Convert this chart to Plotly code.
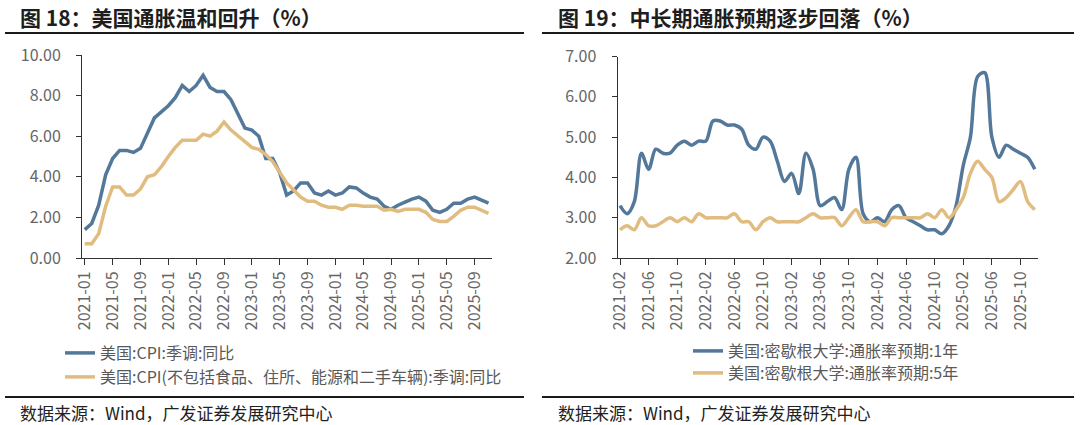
import plotly.graph_objects as go

# ---------------- data ----------------
months_left = [f"{y}-{m:02d}" for y in range(2021, 2026) for m in range(1, 13)][:59]   # 2021-01 .. 2025-11
months_right = [f"{y}-{m:02d}" for y in range(2021, 2026) for m in range(1, 13)][1:60]  # 2021-02 .. 2025-12

cpi_sa_yoy = [1.4, 1.7, 2.6, 4.1, 4.9, 5.3, 5.3, 5.2, 5.4, 6.2, 6.9, 7.2,
              7.5, 7.9, 8.5, 8.2, 8.5, 9.0, 8.4, 8.2, 8.2, 7.8, 7.1, 6.4,
              6.3, 6.0, 4.9, 4.9, 4.2, 3.1, 3.3, 3.7, 3.7, 3.2, 3.1, 3.3,
              3.1, 3.2, 3.5, 3.45, 3.2, 3.0, 2.9, 2.55, 2.4, 2.6, 2.75, 2.9,
              3.0, 2.8, 2.35, 2.25, 2.4, 2.7, 2.7, 2.9, 3.0, None, 2.7]

cpi_ex_yoy = [0.7, 0.7, 1.2, 2.55, 3.5, 3.5, 3.1, 3.1, 3.4, 4.0, 4.1, 4.5,
              5.0, 5.45, 5.8, 5.8, 5.8, 6.1, 6.0, 6.25, 6.7, 6.3, 6.0, 5.75,
              5.45, 5.35, 5.1, 4.75, 4.25, 3.7, 3.35, 3.0, 2.8, 2.8, 2.6, 2.5,
              2.5, 2.4, 2.6, 2.6, 2.55, 2.55, 2.55, 2.35, 2.4, 2.3, 2.4, 2.4,
              2.4, 2.25, 1.9, 1.8, 1.8, 2.05, 2.35, 2.5, 2.5, None, 2.2]

mich_1y = [3.3, 3.1, 3.4, 4.6, 4.2, 4.7, 4.6, 4.6, 4.8, 4.9, 4.8,
           4.9, 4.9, 5.4, 5.4, 5.3, 5.3, 5.2, 4.8, 4.7, 5.0, 4.9, 4.4,
           3.9, 4.1, 3.6, 4.6, 4.2, 3.3, 3.4, 3.5, 3.2, 4.2, 4.5, 3.1,
           2.9, 3.0, 2.9, 3.2, 3.3, 3.0, 2.9, 2.8, 2.7, 2.7, 2.6, 2.8,
           3.3, 4.3, 5.0, 6.5, 6.6, 5.0, 4.5, 4.8, 4.7, 4.6, 4.5, 4.2]

mich_5y = [2.7, 2.8, 2.7, 3.0, 2.8, 2.8, 2.9, 3.0, 2.9, 3.0, 2.9,
           3.1, 3.0, 3.0, 3.0, 3.0, 3.1, 2.9, 2.9, 2.7, 2.9, 3.0, 2.9,
           2.9, 2.9, 2.9, 3.0, 3.1, 3.0, 3.0, 3.0, 2.8, 3.0, 3.2, 2.9,
           2.9, 2.9, 2.8, 3.0, 3.0, 3.0, 3.0, 3.0, 3.1, 3.0, 3.2, 3.0,
           3.2, 3.5, 4.1, 4.4, 4.2, 4.0, 3.4, 3.5, 3.7, 3.9, 3.4, 3.2]

title_left = "图 18：美国通胀温和回升（%）"
title_right = "图 19：中长期通胀预期逐步回落（%）"
source_text = "数据来源：Wind，广发证券发展研究中心"
names_left = ["美国:CPI:季调:同比", "美国:CPI(不包括食品、住所、能源和二手车辆):季调:同比"]
names_right = ["美国:密歇根大学:通胀率预期:1年", "美国:密歇根大学:通胀率预期:5年"]

# ---------------- style ----------------
W, H = 1080, 425
BLUE = "#53789A"
TAN = "#E0BC80"
GRAY = "#666666"
AXIS = "#333333"
FONT = "Noto Sans CJK SC"


def px(x):
    return x / W


def py(y):
    return (H - y) / H


xl = list(range(len(months_left)))
xr = list(range(len(months_right)))

fig = go.Figure()
fig.add_trace(go.Scatter(x=xl, y=cpi_sa_yoy, name=names_left[0], mode="lines",
                         line=dict(color=BLUE, width=3.5), connectgaps=True,
                         xaxis="x", yaxis="y", legend="legend"))
fig.add_trace(go.Scatter(x=xl, y=cpi_ex_yoy, name=names_left[1], mode="lines",
                         line=dict(color=TAN, width=3.5), connectgaps=True,
                         xaxis="x", yaxis="y", legend="legend2"))
fig.add_trace(go.Scatter(x=xr, y=mich_1y, name=names_right[0], mode="lines",
                         line=dict(color=BLUE, width=3.5, shape="spline", smoothing=0.9),
                         xaxis="x2", yaxis="y2", legend="legend3"))
fig.add_trace(go.Scatter(x=xr, y=mich_5y, name=names_right[1], mode="lines",
                         line=dict(color=TAN, width=3.5, shape="spline", smoothing=0.9),
                         xaxis="x2", yaxis="y2", legend="legend4"))

xcommon = dict(showgrid=False, zeroline=False, showline=True, linecolor=AXIS, linewidth=1,
               ticks="outside", ticklen=6, tickcolor=AXIS, tickangle=-90,
               tickfont=dict(family=FONT, size=16, color=GRAY), fixedrange=True,
               automargin=False)
ycommon = dict(showgrid=False, zeroline=False, showline=True, linecolor=AXIS, linewidth=1,
               ticks="outside", ticklen=5, tickcolor=AXIS, tickformat=".2f",
               tickfont=dict(family=FONT, size=16, color=GRAY), fixedrange=True,
               automargin=False, ticklabelstandoff=12)


def legend_at(x, y):
    return dict(x=px(x), y=py(y), xanchor="left", yanchor="middle",
                font=dict(family=FONT, size=16, color="#595959"),
                bgcolor="rgba(0,0,0,0)")


fig.update_layout(
    width=W, height=H, autosize=False,
    margin=dict(l=0, r=0, t=0, b=0, pad=0, autoexpand=False),
    paper_bgcolor="white", plot_bgcolor="white",
    xaxis=dict(xcommon, domain=[px(82), px(492)], range=[-0.4, 58.5],
               tickvals=xl[::4], ticktext=months_left[::4], anchor="y"),
    yaxis=dict(ycommon, domain=[py(258), py(55)], range=[0, 10], dtick=2, anchor="x"),
    xaxis2=dict(xcommon, domain=[px(617.5), px(1038)], range=[-0.35, 58.45],
                tickvals=xr[::4], ticktext=months_right[::4], anchor="y2"),
    yaxis2=dict(ycommon, domain=[py(258), py(56.5)], range=[2, 7], dtick=1, anchor="x2"),
    legend=legend_at(60, 353),
    legend2=legend_at(60, 377),
    legend3=legend_at(688, 351),
    legend4=legend_at(688, 373),
    showlegend=True,
)

annotations = []
for txt, x in [(title_left, 18), (title_right, 556)]:
    annotations.append(dict(text=f"<b>{txt}</b>", x=px(x), y=py(17), xref="paper", yref="paper",
                            xanchor="left", yanchor="middle", showarrow=False,
                            font=dict(family=FONT, size=21, color="#1E1E1E")))
for x in [18, 556]:
    annotations.append(dict(text=source_text, x=px(x), y=py(412), xref="paper", yref="paper",
                            xanchor="left", yanchor="middle", showarrow=False,
                            font=dict(family=FONT, size=17, color="#222222")))
fig.update_layout(annotations=annotations)

shapes = []
for x0, x1 in [(5, 524), (542, 1074)]:
    for y in [33, 397]:
        shapes.append(dict(type="line", xref="paper", yref="paper",
                           x0=px(x0), x1=px(x1), y0=py(y), y1=py(y),
                           line=dict(color="#1A1A1A", width=2)))
fig.update_layout(shapes=shapes)

fig.write_html("out.html",
               config={"displayModeBar": False, "staticPlot": True},
               post_script="document.body.style.margin='0px';document.body.style.overflow='hidden';")
